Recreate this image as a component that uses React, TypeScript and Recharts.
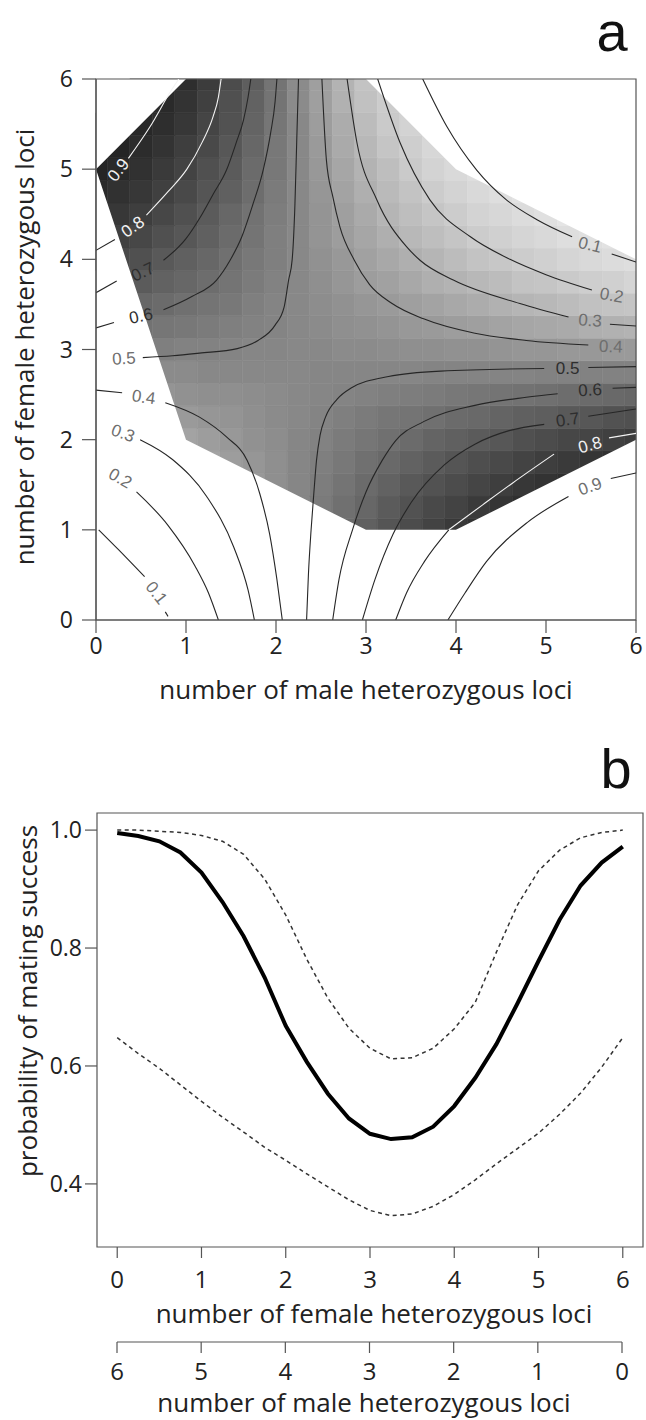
import React from "react";
import { ComposedChart, Line, Area, Scatter, XAxis, YAxis, ReferenceArea } from "recharts";

// ---------------- shared ----------------
const lociTicks = [0, 1, 2, 3, 4, 5, 6];
const FONT = "'Open Sans', 'Noto Sans', sans-serif";
const LABEL_FONT = "'Liberation Sans', Arial, sans-serif";

// ---------------- panel a : heat map (probability, 0.25 grid) ----------------
const HEAT_STEP = 0.25;
const heatRowF = [1, 1.25, 1.5, 1.75, 2, 2.25, 2.5, 2.75, 3, 3.25, 3.5, 3.75, 4, 4.25, 4.5, 4.75, 5, 5.25, 5.5, 5.75, 6];
const heatRowStartM = [2.5, 2, 1.5, 1, 0.75, 0.75, 0.5, 0.5, 0.5, 0.25, 0.25, 0.25, 0, 0, 0, 0, 0, 0, 0, 0.25, 0.5];
const heatRowP = [
  [0.54, 0.59, 0.65, 0.70, 0.74, 0.78, 0.82, 0.85, 0.88],
  [0.43, 0.48, 0.53, 0.58, 0.62, 0.67, 0.71, 0.75, 0.78, 0.82, 0.84, 0.87, 0.89],
  [0.36, 0.40, 0.44, 0.48, 0.52, 0.56, 0.60, 0.64, 0.68, 0.71, 0.74, 0.77, 0.80, 0.83, 0.85, 0.87, 0.89],
  [0.32, 0.35, 0.38, 0.41, 0.44, 0.48, 0.51, 0.54, 0.58, 0.61, 0.64, 0.67, 0.70, 0.73, 0.75, 0.78, 0.80, 0.82, 0.84, 0.86, 0.87],
  [0.33, 0.35, 0.38, 0.40, 0.43, 0.45, 0.48, 0.50, 0.53, 0.55, 0.58, 0.60, 0.63, 0.65, 0.67, 0.69, 0.72, 0.74, 0.76, 0.77, 0.79, 0.81],
  [0.37, 0.39, 0.41, 0.42, 0.44, 0.46, 0.47, 0.49, 0.51, 0.53, 0.55, 0.56, 0.58, 0.60, 0.61, 0.63, 0.65, 0.66, 0.68, 0.69, 0.71, 0.72],
  [0.41, 0.42, 0.43, 0.44, 0.44, 0.45, 0.46, 0.47, 0.48, 0.49, 0.50, 0.51, 0.52, 0.53, 0.54, 0.55, 0.56, 0.57, 0.58, 0.59, 0.60, 0.61, 0.62],
  [0.46, 0.46, 0.46, 0.47, 0.47, 0.47, 0.47, 0.47, 0.48, 0.48, 0.48, 0.48, 0.48, 0.49, 0.49, 0.49, 0.49, 0.49, 0.50, 0.50, 0.50, 0.50, 0.50],
  [0.51, 0.51, 0.50, 0.50, 0.49, 0.48, 0.48, 0.47, 0.47, 0.46, 0.46, 0.45, 0.44, 0.44, 0.43, 0.43, 0.42, 0.41, 0.41, 0.40, 0.40, 0.39, 0.39],
  [0.58, 0.57, 0.55, 0.54, 0.53, 0.51, 0.50, 0.49, 0.47, 0.46, 0.44, 0.43, 0.42, 0.40, 0.39, 0.38, 0.37, 0.35, 0.34, 0.33, 0.32, 0.30, 0.29, 0.28],
  [0.64, 0.62, 0.60, 0.58, 0.56, 0.54, 0.51, 0.49, 0.47, 0.45, 0.43, 0.41, 0.39, 0.37, 0.35, 0.33, 0.31, 0.29, 0.27, 0.26, 0.24, 0.22, 0.21, 0.20],
  [0.70, 0.67, 0.64, 0.62, 0.59, 0.56, 0.53, 0.50, 0.47, 0.44, 0.41, 0.38, 0.36, 0.33, 0.30, 0.28, 0.26, 0.24, 0.21, 0.20, 0.18, 0.16, 0.15, 0.13],
  [0.77, 0.75, 0.72, 0.68, 0.65, 0.62, 0.58, 0.54, 0.51, 0.47, 0.43, 0.40, 0.36, 0.33, 0.30, 0.27, 0.24, 0.21, 0.19, 0.17, 0.15, 0.13, 0.11, 0.10, 0.09],
  [0.82, 0.79, 0.76, 0.72, 0.69, 0.65, 0.60, 0.56, 0.51, 0.47, 0.42, 0.38, 0.34, 0.30, 0.26, 0.23, 0.20, 0.17, 0.15, 0.13, 0.11, 0.09, 0.08, 0.07, 0.06],
  [0.86, 0.83, 0.80, 0.76, 0.72, 0.67, 0.62, 0.57, 0.52, 0.47, 0.42, 0.37, 0.32, 0.27, 0.23, 0.20, 0.17, 0.14, 0.12, 0.10, 0.08, 0.06, 0.05],
  [0.89, 0.86, 0.83, 0.79, 0.75, 0.70, 0.65, 0.59, 0.53, 0.47, 0.41, 0.35, 0.30, 0.25, 0.21, 0.17, 0.14, 0.11, 0.09, 0.07, 0.06],
  [0.91, 0.89, 0.86, 0.82, 0.78, 0.72, 0.67, 0.60, 0.54, 0.47, 0.40, 0.34, 0.28, 0.23, 0.18, 0.14, 0.11, 0.09, 0.07],
  [0.93, 0.91, 0.88, 0.85, 0.80, 0.75, 0.69, 0.62, 0.54, 0.47, 0.39, 0.32, 0.26, 0.20, 0.16, 0.12, 0.09],
  [0.95, 0.93, 0.90, 0.87, 0.83, 0.77, 0.71, 0.63, 0.55, 0.47, 0.38, 0.31, 0.24, 0.18, 0.14, 0.10],
  [0.94, 0.92, 0.89, 0.85, 0.79, 0.72, 0.64, 0.56, 0.46, 0.37, 0.29, 0.22, 0.17, 0.12],
  [0.94, 0.91, 0.87, 0.81, 0.74, 0.66, 0.56, 0.46, 0.37, 0.28, 0.21, 0.15],
];

// convex hull of observed combinations (outside is left blank)
const hullM = [0, 1, 3, 4, 6];
const hullUpperF = [5, 6, 6, 5, 4];
const hullLowerF = [5, 2, 1, 1, 2];

// contour lines (male loci m, female loci f), split where labels interrupt them
const contourSegments = [
  { level: 0.9, tone: "light", pts: [[0.36, 5.12], [0.6, 5.47], [0.84, 5.88], [0.92, 6.0]] },
  { level: 0.8, tone: "dark", pts: [[0, 4.1], [0.21, 4.22]] },
  { level: 0.8, tone: "light", pts: [[0.56, 4.49], [0.8, 4.75], [1.01, 5.0], [1.18, 5.3], [1.3, 5.58], [1.36, 5.8], [1.39, 6.0]] },
  { level: 0.7, tone: "dark", pts: [[0, 3.63], [0.23, 3.76]] },
  { level: 0.7, tone: "dark", pts: [[0.75, 3.99], [1.0, 4.23], [1.16, 4.47], [1.3, 4.72], [1.45, 4.99], [1.56, 5.3], [1.64, 5.55], [1.69, 5.8], [1.72, 6.0]] },
  { level: 0.6, tone: "dark", pts: [[0, 3.24], [0.2, 3.3]] },
  { level: 0.6, tone: "dark", pts: [[0.75, 3.44], [1.07, 3.59], [1.34, 3.77], [1.49, 3.99], [1.62, 4.25], [1.74, 4.6], [1.86, 5.0], [1.94, 5.4], [1.99, 5.75], [2.01, 6.0]] },
  { level: 0.5, tone: "dark", pts: [[0.52, 2.91], [0.85, 2.93], [1.15, 2.96], [1.57, 3.01], [1.8, 3.1], [1.99, 3.27], [2.09, 3.47], [2.14, 3.77], [2.18, 4.0], [2.21, 4.6], [2.23, 5.3], [2.25, 6.0]] },
  { level: 0.4, tone: "dark", pts: [[2.51, 6.0], [2.56, 5.1], [2.63, 4.7], [2.71, 4.36], [2.87, 3.99], [3.04, 3.72], [3.29, 3.51], [3.64, 3.34], [4.21, 3.18], [4.78, 3.1], [5.47, 3.05]] },
  { level: 0.3, tone: "dark", pts: [[2.79, 6.0], [2.9, 5.29], [3.12, 4.66], [3.45, 4.14], [3.6, 3.99], [3.97, 3.77], [4.71, 3.51], [5.25, 3.36]] },
  { level: 0.3, tone: "dark", pts: [[5.71, 3.28], [6.0, 3.26]] },
  { level: 0.2, tone: "dark", pts: [[3.13, 6.0], [3.38, 5.29], [3.71, 4.66], [4.16, 4.25], [4.6, 4.0], [5.0, 3.83], [5.51, 3.66]] },
  { level: 0.1, tone: "dark", pts: [[3.63, 6.0], [3.9, 5.47], [4.23, 4.99], [4.56, 4.66], [4.9, 4.44], [5.29, 4.25]] },
  { level: 0.1, tone: "dark", pts: [[5.73, 4.06], [6.0, 3.97]] },
  { level: 0.4, tone: "dark", pts: [[0, 2.55], [0.29, 2.52]] },
  { level: 0.4, tone: "dark", pts: [[0.77, 2.41], [1.15, 2.25], [1.45, 2.03], [1.68, 1.77], [1.82, 1.4], [1.93, 0.95], [2.01, 0.45], [2.07, 0]] },
  { level: 0.3, tone: "dark", pts: [[0.49, 2.0], [0.85, 1.78], [1.23, 1.37], [1.53, 0.81], [1.69, 0.33], [1.76, 0]] },
  { level: 0.2, tone: "dark", pts: [[0.45, 1.42], [0.8, 1.05], [1.1, 0.6], [1.25, 0.3], [1.36, 0]] },
  { level: 0.1, tone: "dark", pts: [[0.03, 1.0], [0.25, 0.78], [0.54, 0.48]] },
  { level: 0.1, tone: "dark", pts: [[0.77, 0.09], [0.8, 0.04]] },
  { level: 0.5, tone: "dark", pts: [[2.34, 0], [2.36, 0.5], [2.39, 1.0], [2.42, 1.4], [2.45, 1.77], [2.49, 2.05], [2.55, 2.25], [2.68, 2.45], [2.83, 2.57], [3.25, 2.7], [3.83, 2.76], [4.98, 2.79]] },
  { level: 0.5, tone: "dark", pts: [[5.47, 2.8], [6.0, 2.81]] },
  { level: 0.6, tone: "dark", pts: [[2.63, 0], [2.7, 0.45], [2.85, 1.0], [3.0, 1.42], [3.18, 1.77], [3.33, 1.99], [3.64, 2.2], [4.21, 2.38], [4.78, 2.47], [5.13, 2.51]] },
  { level: 0.6, tone: "dark", pts: [[5.74, 2.57], [6.0, 2.58]] },
  { level: 0.7, tone: "dark", pts: [[2.96, 0], [3.1, 0.45], [3.3, 0.95], [3.5, 1.3], [3.87, 1.72], [4.21, 1.95], [4.59, 2.1], [4.98, 2.17]] },
  { level: 0.7, tone: "dark", pts: [[5.47, 2.26], [6.0, 2.34]] },
  { level: 0.8, tone: "dark", pts: [[3.33, 0], [3.45, 0.3], [3.65, 0.65], [3.92, 1.0]] },
  { level: 0.8, tone: "light", pts: [[3.92, 1.0], [4.3, 1.28], [4.63, 1.52], [5.09, 1.84]] },
  { level: 0.8, tone: "light", pts: [[5.7, 2.02], [6.0, 2.07]] },
  { level: 0.9, tone: "dark", pts: [[3.91, 0], [4.1, 0.3], [4.34, 0.65], [4.79, 1.08], [5.25, 1.37]] },
  { level: 0.9, tone: "dark", pts: [[5.72, 1.57], [6.0, 1.63]] },
];

// label tone: light = on the darkest shading, deep = on mid/dark shading, dark = on white/light shading
const contourLabels = [
  { m: 0.25, f: 4.99, text: "0.9", angle: -52, tone: "light" },
  { m: 0.41, f: 4.36, text: "0.8", angle: -35, tone: "light" },
  { m: 0.52, f: 3.86, text: "0.7", angle: -25, tone: "deep" },
  { m: 0.5, f: 3.37, text: "0.6", angle: -12, tone: "deep" },
  { m: 0.31, f: 2.9, text: "0.5", angle: -3, tone: "dark" },
  { m: 0.53, f: 2.47, text: "0.4", angle: 8, tone: "dark" },
  { m: 0.3, f: 2.07, text: "0.3", angle: 20, tone: "dark" },
  { m: 0.27, f: 1.57, text: "0.2", angle: 30, tone: "dark" },
  { m: 0.67, f: 0.3, text: "0.1", angle: 52, tone: "dark" },
  { m: 5.49, f: 4.16, text: "0.1", angle: 14, tone: "dark" },
  { m: 5.73, f: 3.6, text: "0.2", angle: 10, tone: "dark" },
  { m: 5.49, f: 3.32, text: "0.3", angle: 4, tone: "dark" },
  { m: 5.72, f: 3.03, text: "0.4", angle: 2, tone: "dark" },
  { m: 5.24, f: 2.79, text: "0.5", angle: 0, tone: "deep" },
  { m: 5.49, f: 2.55, text: "0.6", angle: -3, tone: "deep" },
  { m: 5.24, f: 2.22, text: "0.7", angle: -8, tone: "deep" },
  { m: 5.49, f: 1.94, text: "0.8", angle: -15, tone: "light" },
  { m: 5.49, f: 1.48, text: "0.9", angle: -20, tone: "dark" },
];

// ---------------- panel b ----------------
const femaleLoci = [0, 0.25, 0.5, 0.75, 1, 1.25, 1.5, 1.75, 2, 2.25, 2.5, 2.75, 3, 3.25, 3.5, 3.75, 4, 4.25, 4.5, 4.75, 5, 5.25, 5.5, 5.75, 6];
const meanSuccess = [0.995, 0.99, 0.981, 0.962, 0.928, 0.878, 0.82, 0.75, 0.668, 0.607, 0.553, 0.511, 0.485, 0.476, 0.479, 0.497, 0.532, 0.58, 0.637, 0.706, 0.778, 0.848, 0.906, 0.945, 0.972];
const upperSuccess = [1.0, 1.0, 0.998, 0.996, 0.991, 0.981, 0.959, 0.917, 0.856, 0.781, 0.715, 0.664, 0.63, 0.612, 0.614, 0.63, 0.663, 0.708, 0.793, 0.873, 0.931, 0.966, 0.987, 0.996, 1.0];
const lowerSuccess = [0.648, 0.621, 0.596, 0.568, 0.54, 0.513, 0.488, 0.462, 0.44, 0.417, 0.395, 0.373, 0.355, 0.346, 0.349, 0.362, 0.382, 0.407, 0.434, 0.46, 0.486, 0.518, 0.554, 0.598, 0.648];
const probTicks = [0.4, 0.6, 0.8, 1.0];
const maleLoci = [6, 5, 4, 3, 2, 1, 0];

// ---------------- derived tables ----------------
const heatCells = heatRowP.flatMap((row, j) =>
  row.map((p, i) => ({ m: heatRowStartM[j] + i * HEAT_STEP, f: heatRowF[j], p }))
);
const maskRows = hullM.map((m, i) => ({ m, top: [hullUpperF[i], 6], bottom: [0, hullLowerF[i]] }));
const panelBRows = femaleLoci.map((f, i) => ({ f, mean: meanSuccess[i], upper: upperSuccess[i], lower: lowerSuccess[i] }));
const maleRows = maleLoci.map((male) => ({ male, y: 0.5 }));

const grayOf = (p: number) => {
  const g = Math.round(Math.max(0, Math.min(255, 242 - 225 * p)));
  return `rgb(${g},${g},${g})`;
};
const clamp6 = (v: number) => Math.max(0, Math.min(6, v));
const labelColor = (tone: string) => (tone === "light" ? "#f2f2f2" : tone === "deep" ? "#2e2e2e" : "#6e6e6e");

// ---------------- layout ----------------
const A_W = 646;
const A_H = 740;
const A_MARGIN = { top: 79, right: 10, bottom: 80, left: 36 };
const B_MARGIN = { top: 73, right: 3, bottom: 133, left: 37 };

function axesA(visible: boolean) {
  const tick = visible ? { fontSize: 23, fill: "#222", fontFamily: FONT } : false;
  const line = visible ? { stroke: "#555", strokeWidth: 1.2 } : false;
  return [
    <XAxis key="xa" type="number" dataKey="m" domain={[0, 6]} allowDataOverflow ticks={lociTicks} interval={0}
      height={40} tickSize={13} tickMargin={5} tick={tick as any} axisLine={line as any} tickLine={line as any} />,
    <YAxis key="ya" type="number" domain={[0, 6]} allowDataOverflow ticks={lociTicks} interval={0}
      width={60} tickSize={14} tickMargin={9} tick={tick as any} axisLine={line as any} tickLine={line as any} />,
  ];
}

const LabelShape = (props: any) => {
  const { cx, cy } = props;
  const d = props.payload ?? props;
  if (cx == null || cy == null) return null;
  return (
    <text x={cx} y={cy} transform={`rotate(${d.angle} ${cx} ${cy})`} textAnchor="middle" dominantBaseline="central"
      fontSize={17} fontFamily={LABEL_FONT} fill={labelColor(d.tone)}>
      {d.text}
    </text>
  );
};

function PanelA() {
  return (
    <div style={{ position: "absolute", left: 0, top: 0, width: A_W, height: A_H }}>
      {/* layer 1: heat cells */}
      <div style={{ position: "absolute", left: 0, top: 0 }}>
        <ComposedChart width={A_W} height={A_H} data={maskRows} margin={A_MARGIN}>
          {axesA(false)}
          {heatCells.map((c, k) => {
            const h = HEAT_STEP / 2;
            const col = grayOf(c.p);
            return (
              <ReferenceArea key={k} x1={clamp6(c.m - h)} x2={clamp6(c.m + h)} y1={clamp6(c.f - h)} y2={clamp6(c.f + h)}
                fill={col} fillOpacity={1} stroke={col} strokeWidth={0.6} ifOverflow="visible" />
            );
          })}
        </ComposedChart>
      </div>
      {/* layer 2: blank outside hull */}
      <div style={{ position: "absolute", left: 0, top: 0 }}>
        <ComposedChart width={A_W} height={A_H} data={maskRows} margin={A_MARGIN}>
          {axesA(false)}
          <Area type="linear" dataKey="top" fill="#ffffff" fillOpacity={1} stroke="none" isAnimationActive={false} />
          <Area type="linear" dataKey="bottom" fill="#ffffff" fillOpacity={1} stroke="none" isAnimationActive={false} />
        </ComposedChart>
      </div>
      {/* layer 3: contours, labels, axes, box */}
      <div style={{ position: "absolute", left: 0, top: 0 }}>
        <ComposedChart width={A_W} height={A_H} margin={A_MARGIN}>
          {axesA(true)}
          <ReferenceArea x1={0} x2={6} y1={0} y2={6} fill="none" stroke="#555" strokeWidth={1.2} ifOverflow="visible" />
          {contourSegments.map((s, k) => (
            <Line key={k} data={s.pts.map(([m, f]) => ({ m, f }))} dataKey="f" type="monotone"
              stroke={s.tone === "light" ? "#f4f4f4" : "#262626"} strokeWidth={1.1} dot={false}
              activeDot={false} isAnimationActive={false} />
          ))}
          <Scatter data={contourLabels} dataKey="f" shape={LabelShape} isAnimationActive={false} />
        </ComposedChart>
      </div>
    </div>
  );
}

function PanelB() {
  const tick = { fontSize: 24, fill: "#222", fontFamily: FONT };
  return (
    <div style={{ position: "absolute", left: 0, top: 740, width: 646, height: 680 }}>
      <div style={{ position: "absolute", left: 0, top: 0 }}>
        <ComposedChart width={646} height={680} data={panelBRows} margin={B_MARGIN}>
          <XAxis type="number" dataKey="f" domain={[-0.24, 6.24]} allowDataOverflow ticks={lociTicks} interval={0}
            height={40} tickSize={11} tickMargin={13} axisLine={false} tickLine={{ stroke: "#555", strokeWidth: 1.2 }} tick={tick} />
          <YAxis type="number" domain={[0.293, 1.029]} allowDataOverflow ticks={probTicks} interval={0}
            width={60} tickSize={12} tickMargin={3} tickFormatter={(v: number) => v.toFixed(1)}
            axisLine={false} tickLine={{ stroke: "#555", strokeWidth: 1.2 }} tick={{ ...tick, fontSize: 23 }} />
          <ReferenceArea x1={-0.24} x2={6.24} y1={0.293} y2={1.029} fill="none" stroke="#555" strokeWidth={1.2} ifOverflow="visible" />
          <Line type="linear" dataKey="upper" stroke="#333" strokeWidth={1.5} strokeDasharray="4 3.5" dot={false} activeDot={false} isAnimationActive={false} />
          <Line type="linear" dataKey="lower" stroke="#333" strokeWidth={1.5} strokeDasharray="4 3.5" dot={false} activeDot={false} isAnimationActive={false} />
          <Line type="linear" dataKey="mean" stroke="#000" strokeWidth={4} dot={false} activeDot={false} isAnimationActive={false} />
        </ComposedChart>
      </div>
      <div style={{ position: "absolute", left: 0, top: 0 }}>
        <ComposedChart width={646} height={680} data={maleRows} margin={{ top: 600, right: 24, bottom: 38, left: 117 }}>
          <XAxis type="number" dataKey="male" domain={[0, 6]} reversed allowDataOverflow ticks={lociTicks} interval={0}
            height={40} tickSize={11} tickMargin={10} axisLine={{ stroke: "#555", strokeWidth: 1.2 }}
            tickLine={{ stroke: "#555", strokeWidth: 1.2 }} tick={tick} />
          <YAxis hide domain={[0, 1]} />
          <Line dataKey="y" stroke="none" dot={false} activeDot={false} isAnimationActive={false} />
        </ComposedChart>
      </div>
    </div>
  );
}

export default function App() {
  return (
    <div style={{ position: "absolute", left: 0, top: 0, width: 646, height: 1420, background: "#fff", overflow: "hidden" }}>
      <PanelA />
      <PanelB />
      <svg width={646} height={1420} style={{ position: "absolute", left: 0, top: 0, pointerEvents: "none" }}>
        <g fontFamily={FONT} fontSize={26} fill="#222">
          <text x={366} y={699} textAnchor="middle">number of male heterozygous loci</text>
          <text x={34} y={347} textAnchor="middle" transform="rotate(-90 34 347)">number of female heterozygous loci</text>
          <text x={374} y={1323} textAnchor="middle">number of female heterozygous loci</text>
          <text x={364} y={1412} textAnchor="middle">number of male heterozygous loci</text>
          <text x={37} y={1001} textAnchor="middle" transform="rotate(-90 37 1001)">probability of mating success</text>
        </g>
        <g fontFamily={LABEL_FONT} fontSize={56} fill="#111">
          <text x={612} y={51} textAnchor="middle">a</text>
          <text x={616} y={788} textAnchor="middle">b</text>
        </g>
      </svg>
    </div>
  );
}
